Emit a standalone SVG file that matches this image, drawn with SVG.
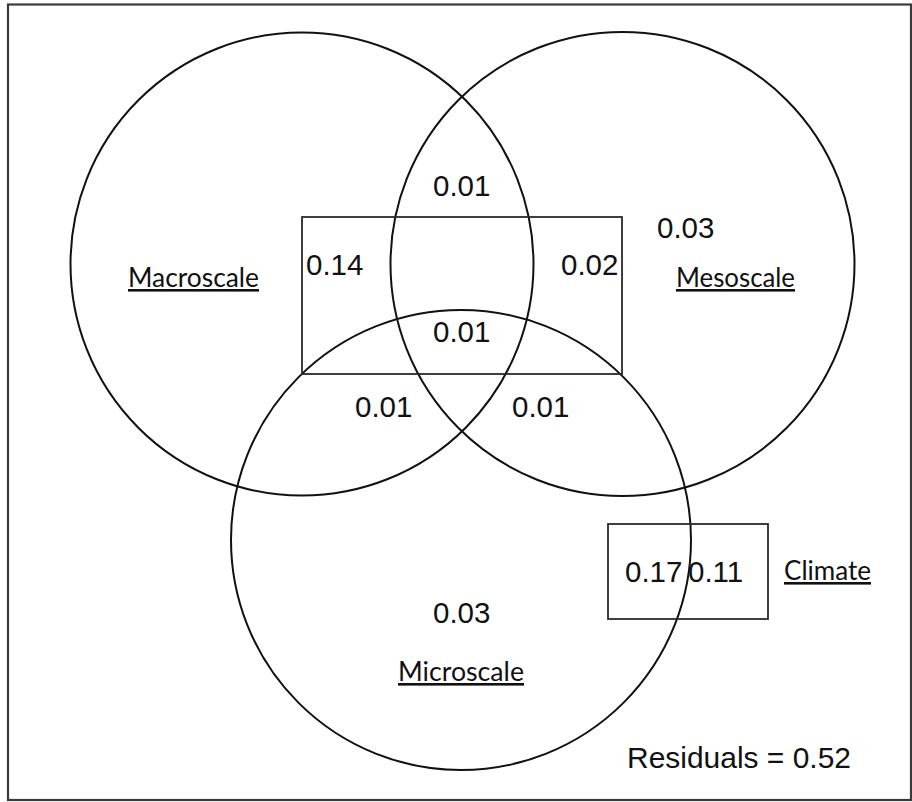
<svg xmlns="http://www.w3.org/2000/svg" width="912" height="802" viewBox="0 0 912 802">
<style>
.frame{fill:none;stroke:#3a3a3a;stroke-width:2.2}
.circ{fill:none;stroke:#111;stroke-width:2}
.box{fill:none;stroke:#2a2a2a;stroke-width:1.8}
.num{font-family:"Liberation Sans",Arial,sans-serif;font-size:29.5px;fill:#111}
.lab{font-family:Lato,"Open Sans",sans-serif;font-size:26px;fill:#111;text-decoration:underline}
</style>
<rect width="912" height="802" fill="#fff"/>
<rect class="frame" x="8" y="4.5" width="903" height="795.5"/>
<g id="macroscale">
<circle class="circ" cx="302" cy="264" r="231.5"/>
<text class="lab" x="128" y="287" textLength="131" lengthAdjust="spacingAndGlyphs">Macroscale</text>
</g>
<g id="mesoscale">
<circle class="circ" cx="622.5" cy="264" r="232"/>
<text class="lab" x="676" y="287" textLength="119" lengthAdjust="spacingAndGlyphs">Mesoscale</text>
</g>
<g id="microscale">
<circle class="circ" cx="461" cy="540" r="230"/>
<text class="lab" x="398" y="681" textLength="126" lengthAdjust="spacingAndGlyphs">Microscale</text>
</g>
<g id="overlap-box">
<rect class="box" x="302" y="217" width="320" height="157"/>
</g>
<g id="climate">
<rect class="box" x="608" y="524" width="160" height="95"/>
<text class="lab" x="784" y="580" textLength="87" lengthAdjust="spacingAndGlyphs">Climate</text>
</g>
<g id="values">
<text class="num" x="433" y="196">0.01</text>
<text class="num" x="657" y="238">0.03</text>
<text class="num" x="306" y="275">0.14</text>
<text class="num" x="561" y="275">0.02</text>
<text class="num" x="433" y="342">0.01</text>
<text class="num" x="355" y="417">0.01</text>
<text class="num" x="512" y="417">0.01</text>
<text class="num" x="625" y="582">0.17</text>
<text class="num" x="688" y="582">0.11</text>
<text class="num" x="433" y="623">0.03</text>
<text class="num" x="627" y="768" textLength="224" lengthAdjust="spacingAndGlyphs">Residuals = 0.52</text>
</g>
<g id="connectors"/>
</svg>
